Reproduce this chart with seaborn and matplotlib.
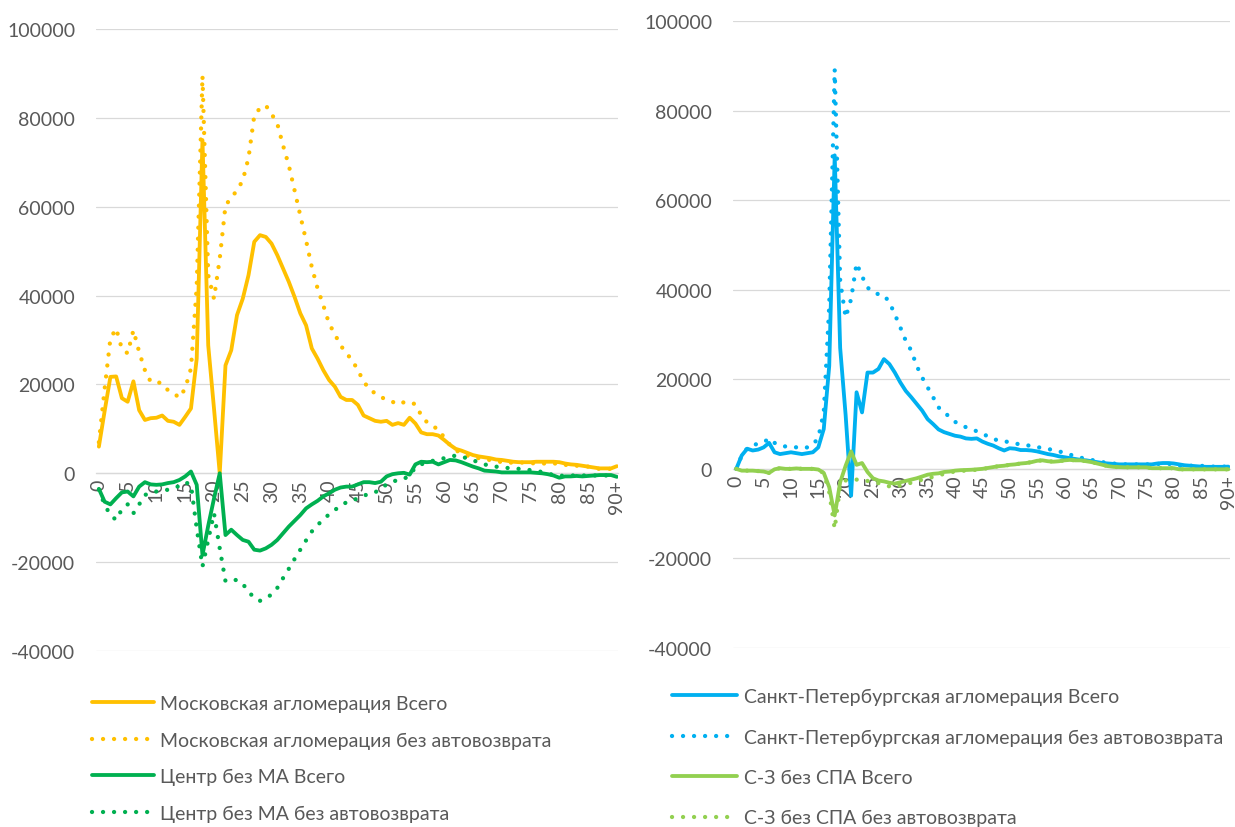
import matplotlib
matplotlib.use("Agg")
import matplotlib.pyplot as plt
import seaborn as sns

# ages 0..90 (90 = "90+")
ages = list(range(91))
tick_ages = list(range(0, 91, 5))
tick_labels = [str(a) for a in range(0, 90, 5)] + ['90+']
y_ticks = [-40000, -20000, 0, 20000, 40000, 60000, 80000, 100000]

mos_total = [
    6000, 14000, 21700, 21800, 16900, 16100, 20700, 14200, 12000, 12400,
    12500, 13000, 11800, 11600, 10900, 12700, 14600, 25800, 75000, 28800,
    14600, 0, 24300, 27700, 35600, 39300, 44600, 52100, 53600, 53200,
    51700, 49100, 46100, 43100, 39700, 36000, 33300, 28100, 25800, 23200,
    21000, 19500, 17200, 16500, 16500, 15400, 13000, 12400, 11800, 11600,
    11800, 10900, 11300, 10900, 12500, 11200, 9200, 8800, 8800, 8500,
    7500, 6400, 5500, 5100, 4600, 4100, 3800, 3600, 3400, 3100,
    3000, 2800, 2600, 2500, 2500, 2500, 2600, 2600, 2600, 2600,
    2500, 2200, 2000, 1900, 1700, 1500, 1300, 1100, 1100, 1100,
    1600]
mos_noauto = [
    7000, 19000, 30300, 32600, 28000, 27000, 32200, 27300, 23200, 20600,
    20600, 20200, 18700, 18000, 17000, 19100, 23600, 42000, 89500, 44600,
    39300, 48300, 60300, 62000, 63700, 65900, 71000, 80500, 82200, 82800,
    80900, 78700, 73800, 69300, 63700, 58000, 52400, 46400, 41600, 37800,
    33700, 31300, 28800, 27000, 25500, 23200, 20700, 18900, 18000, 17200,
    16500, 16100, 15500, 16000, 16100, 15500, 13100, 11500, 10500, 10000,
    8000, 6400, 5200, 4500, 4000, 3600, 3400, 3100, 3000, 2800,
    2500, 2400, 2400, 2400, 2400, 2300, 2200, 2200, 2200, 2200,
    2200, 1900, 1800, 1700, 1600, 1500, 1100, 1000, 1000, 1000,
    1500]
cen_total = [
    -3500, -6400, -7000, -5600, -4300, -4100, -5200, -3000, -2000, -2500,
    -2600, -2500, -2200, -2000, -1500, -700, 400, -2600, -18400, -11800,
    -5700, 0, -13900, -12700, -13900, -15000, -15400, -17200, -17400, -16900,
    -16100, -15000, -13500, -12000, -10700, -9400, -7900, -7000, -6200, -5200,
    -4500, -3700, -3200, -3000, -3000, -2500, -2000, -2000, -2200, -1900,
    -700, -200, 0, 100, -300, 2000, 2600, 2500, 2600, 2000,
    2500, 3000, 2900, 2500, 2000, 1500, 1100, 600, 500, 400,
    200, 200, 200, 200, 200, 200, 100, 0, -200, -500,
    -1000, -700, -700, -600, -700, -600, -500, -400, -400, -400,
    -800]
cen_noauto = [
    -3700, -7100, -9400, -10500, -8100, -7000, -9000, -7000, -4900, -4300,
    -4100, -3900, -3700, -3400, -2800, -2000, -2600, -12400, -21000, -15000,
    -9000, -16900, -24300, -24100, -24000, -24900, -26600, -28100, -28700, -28100,
    -27300, -25800, -23600, -21500, -19300, -17200, -15100, -13100, -11600, -10500,
    -9200, -8200, -7500, -6500, -6200, -5600, -5000, -4700, -4300, -3400,
    -2500, -1900, -1500, -1300, -400, 1300, 2000, 2500, 2800, 3100,
    3400, 3700, 4000, 3700, 3400, 2900, 2500, 2000, 1700, 1500,
    1300, 1200, 1100, 1000, 900, 700, 500, 300, 0, -400,
    -600, -500, -500, -500, -500, -500, -500, -500, -500, -500,
    -700]
spb_total = [
    0, 3000, 4500, 4100, 4300, 4800, 5800, 3700, 3300, 3500,
    3700, 3500, 3300, 3500, 3700, 4800, 8900, 23000, 70000, 27000,
    12000, -6000, 17100, 12600, 21500, 21500, 22300, 24500, 23400, 21500,
    19300, 17400, 16000, 14500, 13000, 11100, 10000, 8800, 8200, 7800,
    7400, 7200, 6800, 6700, 6800, 6100, 5600, 5200, 4600, 4100,
    4600, 4500, 4200, 4200, 4100, 3900, 3600, 3300, 3100, 2800,
    2600, 2400, 2200, 2000, 1900, 1700, 1500, 1300, 1200, 1100,
    1000, 1000, 1000, 1000, 1000, 1000, 1000, 1200, 1300, 1300,
    1200, 1000, 800, 700, 600, 500, 450, 450, 450, 450,
    500]
spb_noauto = [
    0, 3000, 4600, 5300, 5600, 5900, 6800, 5800, 5200, 5000,
    5000, 4800, 4600, 4800, 5300, 7000, 12600, 36400, 89200, 42000,
    33800, 37900, 45900, 43000, 40500, 39400, 39000, 38800, 37200, 34500,
    31600, 28600, 26400, 23000, 20400, 18200, 16000, 13700, 12800, 11500,
    10500, 9900, 9300, 8800, 8400, 7800, 7300, 6700, 6300, 6200,
    5900, 5700, 5400, 5300, 5100, 4800, 4750, 4500, 4100, 3900,
    3600, 3200, 2800, 2500, 2200, 2000, 1700, 1500, 1300, 1200,
    1000, 1000, 1000, 1000, 1000, 1000, 1000, 1100, 1100, 1100,
    1100, 700, 700, 700, 700, 700, 500, 500, 500, 500,
    500]
nw_total = [
    0, -400, -400, -400, -500, -600, -900, -100, 150, 0,
    0, 100, 0, 0, 0, -150, -900, -4100, -10400, -3000,
    700, 3900, 900, 1300, -700, -2100, -2600, -2800, -3100, -3300,
    -3000, -2700, -2400, -2100, -1700, -1300, -1100, -1000, -700, -600,
    -400, -300, -250, -200, -100, 0, 200, 400, 600, 700,
    900, 1000, 1200, 1300, 1500, 1800, 1900, 1700, 1600, 1700,
    1900, 2000, 1900, 1900, 1700, 1500, 1200, 900, 600, 450,
    400, 350, 350, 350, 350, 350, 150, 150, 150, 150,
    150, -100, -100, -100, -100, -100, -100, -100, -100, -100,
    -100]
nw_noauto = [
    0, -400, -400, -400, -500, -600, -900, -100, 150, 0,
    0, 100, 0, 0, 0, -150, -1000, -5200, -13400, -3700,
    -2600, -2400, -2400, -2400, -2700, -2900, -3200, -3600, -3900, -4100,
    -3700, -3400, -3100, -2800, -2400, -2100, -1800, -1500, -1100, -800,
    -600, -450, -400, -300, -200, -100, 200, 400, 600, 700,
    900, 1000, 1200, 1300, 1500, 1800, 1900, 1700, 1600, 1700,
    1900, 2000, 1900, 1900, 1700, 1500, 1200, 900, 600, 450,
    400, 350, 350, 350, 350, 350, 150, 150, 150, 150,
    150, -100, -100, -100, -100, -100, -100, -100, -100, -100,
    -100]

left_labels = ['Московская агломерация Всего',
               'Московская агломерация без автовозврата',
               'Центр без МА Всего',
               'Центр без МА без автовозврата']
right_labels = ['Санкт-Петербургская агломерация Всего',
                'Санкт-Петербургская агломерация без автовозврата',
                'С-З без СПА Всего',
                'С-З без СПА без автовозврата']

YELLOW = '#FFC000'
GREEN = '#00B050'
BLUE = '#00B0F0'
LGREEN = '#92D050'
GREY = '#595959'
GRID = '#D9D9D9'

sns.set_style("white")
plt.rcParams['font.family'] = ['Lato', 'DejaVu Sans']
plt.rcParams['axes.unicode_minus'] = False

LW = 2.75
DOT_LW = 3.1
DOT = (0, (0.01, 2.55))

fig = plt.figure(figsize=(12.35, 8.28), dpi=100)
ax1 = fig.add_axes([96 / 1235, 1 - 652 / 828, (618 - 96) / 1235, (652 - 30) / 828])
ax2 = fig.add_axes([733 / 1235, 1 - 649 / 828, (1230 - 733) / 1235, (649 - 22) / 828])


def draw_panel(ax, series, xlim):
    for vals, color, dotted, label in series:
        if dotted:
            sns.lineplot(x=ages, y=vals, ax=ax, color=color, linewidth=DOT_LW,
                         linestyle=DOT, dash_capstyle='round', label=label)
        else:
            sns.lineplot(x=ages, y=vals, ax=ax, color=color, linewidth=LW,
                         solid_capstyle='round', label=label)
    ax.set_xlim(*xlim)
    ax.set_ylim(-40000, 100000)
    ax.set_yticks(y_ticks)
    ax.set_yticklabels([str(v) for v in y_ticks])
    ax.set_xticks(tick_ages)
    ax.set_xticklabels(tick_labels)
    ax.grid(axis='y', color=GRID, linewidth=0.9)
    ax.grid(axis='x', visible=False)
    ax.set_axisbelow(True)
    for s in ['top', 'right', 'left']:
        ax.spines[s].set_visible(False)
    ax.spines['bottom'].set_position(('data', 0))
    ax.spines['bottom'].set_color(GRID)
    ax.spines['bottom'].set_linewidth(0.9)
    ax.spines['bottom'].set_zorder(0.5)
    ax.tick_params(axis='x', length=0, pad=4, labelsize=14, labelcolor=GREY,
                   labelrotation=90)
    ax.tick_params(axis='y', length=0, pad=15, labelsize=14, labelcolor=GREY)
    ax.set_xlabel('')
    ax.set_ylabel('')


draw_panel(ax1, [(mos_total, YELLOW, False, left_labels[0]),
                 (mos_noauto, YELLOW, True, left_labels[1]),
                 (cen_total, GREEN, False, left_labels[2]),
                 (cen_noauto, GREEN, True, left_labels[3])], (-0.5, 90.2))
draw_panel(ax2, [(spb_total, BLUE, False, right_labels[0]),
                 (spb_noauto, BLUE, True, right_labels[1]),
                 (nw_total, LGREEN, False, right_labels[2]),
                 (nw_noauto, LGREEN, True, right_labels[3])], (-0.6, 90.3))

h1, l1 = ax1.get_legend_handles_labels()
ax1.legend(h1, l1, loc='upper left', bbox_to_anchor=(92 / 1235, 1 - 696 / 828),
           bbox_transform=fig.transFigure, frameon=False, borderpad=0,
           borderaxespad=0, handlelength=3.2, handletextpad=0.3,
           labelspacing=1.0, prop={'size': 14}, labelcolor=GREY)
h2, l2 = ax2.get_legend_handles_labels()
ax2.legend(h2, l2, loc='upper left', bbox_to_anchor=(672 / 1235, 1 - 689 / 828),
           bbox_transform=fig.transFigure, frameon=False, borderpad=0,
           borderaxespad=0, handlelength=3.35, handletextpad=0.35,
           labelspacing=1.2, prop={'size': 14}, labelcolor=GREY)

fig.savefig('out.png', dpi=100)
